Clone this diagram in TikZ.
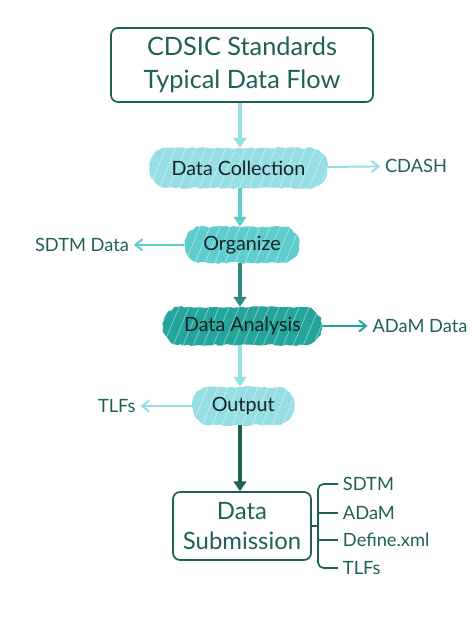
\documentclass[tikz,border=0pt]{standalone}
\usepackage{fontspec}
\setmainfont{Lato}
\usepackage{xcolor}
\usepackage{tikz}
\usetikzlibrary{arrows.meta,positioning,shapes.misc,decorations.pathmorphing}
\definecolor{FlowDark}{RGB}{30,95,88}
\definecolor{FlowLight}{RGB}{150,222,228}
\definecolor{FlowMid}{RGB}{95,205,205}
\definecolor{FlowDeep}{RGB}{35,165,155}
\definecolor{FlowArrow}{RGB}{45,140,130}
\definecolor{FlowInk}{RGB}{20,35,35}

\begin{document}
\begin{tikzpicture}[
frame/.style={
draw=FlowDark,
line width=1.2pt,
rounded corners=5pt,
text=FlowDark,
align=center
},
blob/.style={
shape=rounded rectangle,
rounded rectangle arc length=150,
fill=#1,
text=FlowInk,
font=\fontsize{14}{16}\selectfont,
decorate,
decoration={random steps,segment length=2.5pt,amplitude=0.7pt},
path picture={
\foreach \k in {-1.2,-0.95,...,5}{
\draw[white,opacity=0.45,line width=0.5pt]
([xshift=\k cm]path picture bounding box.south west) -- ++(0.5,1.2);
}
}
},
label/.style={
text=FlowDark,
font=\fontsize{13}{15}\selectfont
},
flow/.style={
line width=2.2pt,
draw=#1,
-{Triangle[length=7pt,width=9pt]}
},
side/.style={
line width=1.4pt,
draw=#1,
-{Straight Barb[length=5pt,width=8pt]}
}
]

\useasboundingbox (0,0) rectangle (11.85,-15.6);

% main column
\node[frame,minimum width=6.55cm,minimum height=1.85cm,
font=\fontsize{18}{23}\selectfont] (title) at (6.05,-1.625)
{CDSIC Standards\\Typical Data Flow};

\node[blob=FlowLight,minimum width=4.7cm,minimum height=1.0cm] (collect) at (5.96,-4.2) {Data Collection};
\node[blob=FlowMid,minimum width=3.1cm,minimum height=0.9cm] (organize) at (6.05,-6.12) {Organize};
\node[blob=FlowDeep,minimum width=4.2cm,minimum height=0.95cm] (analysis) at (6.06,-8.15) {Data Analysis};
\node[blob=FlowLight,minimum width=2.8cm,minimum height=0.95cm] (output) at (6.08,-10.15) {Output};

\node[frame,minimum width=3.45cm,minimum height=1.7cm,
font=\fontsize{17}{22}\selectfont] (submit) at (6.05,-13.15)
{Data\\Submission};

% side results
\node[label] (cdash) at (10.4,-4.15) {CDASH};
\node[label] (sdtm) at (2.05,-6.12) {SDTM Data};
\node[label] (adam) at (10.5,-8.15) {ADaM Data};
\node[label] (tlfs) at (2.92,-10.15) {TLFs};

% flow arrows
\draw[flow=FlowLight] (title.south -| 6,0) -- (collect.north -| 6,0);
\draw[flow=FlowMid] (collect.south -| 6,0) -- (organize.north -| 6,0);
\draw[flow=FlowArrow] (organize.south -| 6,0) -- (analysis.north -| 6,0);
\draw[flow=FlowLight] (analysis.south -| 6,0) -- (output.north -| 6,0);
\draw[flow=FlowDark] (output.south -| 6,0) -- (submit.north -| 6,0);

\draw[side=FlowLight] (collect) -- (cdash);
\draw[side=FlowMid] (organize) -- (sdtm);
\draw[side=FlowDeep] (analysis) -- (adam);
\draw[side=FlowLight] (output) -- (tlfs);

% submission package
\coordinate (fork) at (7.95,-13.15);
\node[label,anchor=west] (pkgsdtm) at (8.45,-12.1) {SDTM};
\node[label,anchor=west] (pkgadam) at (8.45,-12.825) {ADaM};
\node[label,anchor=west] (pkgdefine) at (8.45,-13.5) {Define.xml};
\node[label,anchor=west] (pkgtlfs) at (8.45,-14.2) {TLFs};

\draw[FlowDark,line width=1.2pt] (submit.east) -- (fork);
\draw[FlowDark,line width=1.2pt,rounded corners=4pt]
(pkgsdtm.west) -| (fork) |- (pkgtlfs.west);
\draw[FlowDark,line width=1.2pt] (fork |- pkgadam.west) -- (pkgadam.west);
\draw[FlowDark,line width=1.2pt] (fork |- pkgdefine.west) -- (pkgdefine.west);

\end{tikzpicture}
\end{document}
